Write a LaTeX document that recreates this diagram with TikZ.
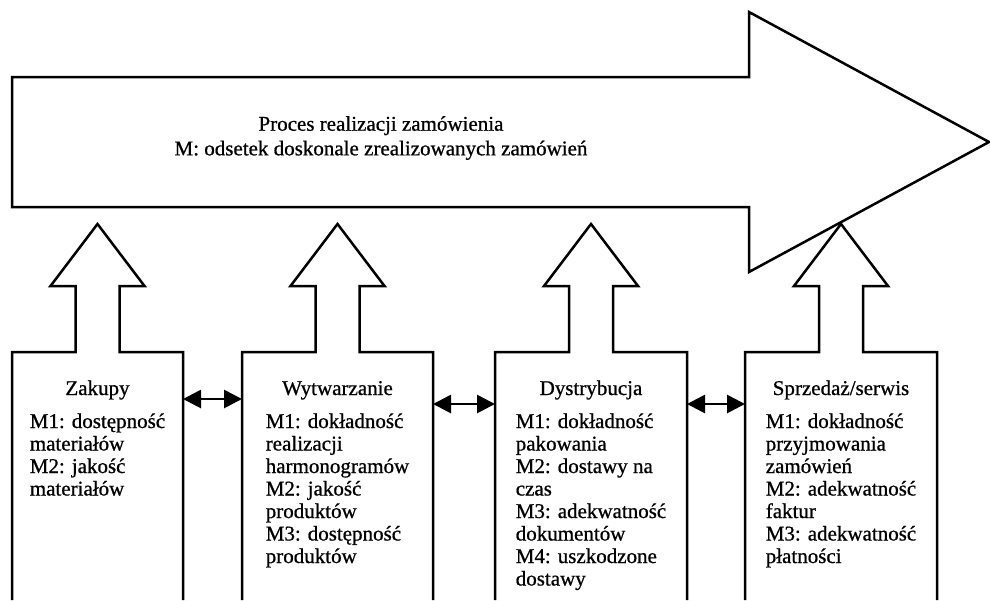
\documentclass[tikz,border=0pt]{standalone}
\usepackage{fontspec}
\setmainfont[AutoFakeBold=0.8]{Liberation Serif}
\usetikzlibrary{arrows.meta}

\tikzset{
  outline/.style={line width=1.25pt, line join=miter},
  link/.style={line width=1.4pt, {Triangle[length=9pt,width=9pt]}-{Triangle[length=9pt,width=9pt]}},
  proctext/.style={align=center, font=\fontsize{10.5}{12.3}\selectfont\bfseries},
  unittitle/.style={anchor=base, inner sep=0pt, font=\fontsize{10.5}{11.25}\selectfont\bfseries},
  metrics/.style={anchor=north, align=left, inner sep=0pt, font=\fontsize{10.5}{11.25}\selectfont\bfseries},
}

\begin{document}
\begin{tikzpicture}[x=0.5pt,y=-0.5pt]
\useasboundingbox (0,0) rectangle (990,600);

% main process arrow
\draw [outline] (12,77) -- (749,77) -- (749,12) -- (989,142) -- (749,272) -- (749,207) -- (12,207) -- cycle;
\node (proc) [proctext] at (381,138) {Proces realizacji zamówienia\\M: odsetek doskonale zrealizowanych zamówień};

% functional areas with their arrows
\foreach \nm/\L/\R/\yw/\ye in {zak/12/183/399/399, wyt/242/433/399/404, dys/495/687/404/404, sprz/745/937/404/404} {
  \pgfmathsetmacro\C{(\L+\R)/2}
  \draw [outline] (\L,600) -- (\L,352) -- ({\C-22},352) -- ({\C-22},286) -- ({\C-47},286)
    -- (\C,224) -- ({\C+47},286) -- ({\C+22},286) -- ({\C+22},352) -- (\R,352) -- (\R,600);
  \coordinate (\nm-w) at (\L,\yw);
  \coordinate (\nm-e) at (\R,\ye);
}

\node (zak-t) [unittitle] at (97.5,395) {Zakupy};
\node (zak-m) [metrics] at (97.5,413) {M1: dostępność\\materiałów\\M2: jakość\\materiałów};

\node (wyt-t) [unittitle] at (337.5,395) {Wytwarzanie};
\node (wyt-m) [metrics] at (337.5,413) {M1: dokładność\\realizacji\\harmonogramów\\M2: jakość\\produktów\\M3: dostępność\\produktów};

\node (dys-t) [unittitle] at (591,395) {Dystrybucja};
\node (dys-m) [metrics] at (591,413) {M1: dokładność\\pakowania\\M2: dostawy na\\czas\\M3: adekwatność\\dokumentów\\M4: uszkodzone\\dostawy};

\node (sprz-t) [unittitle] at (841,395) {Sprzedaż/serwis};
\node (sprz-m) [metrics] at (841,413) {M1: dokładność\\przyjmowania\\zamówień\\M2: adekwatność\\faktur\\M3: adekwatność\\płatności};

% links between areas
\draw [link] (zak-e) -- (wyt-w);
\draw [link] (wyt-e) -- (dys-w);
\draw [link] (dys-e) -- (sprz-w);
\end{tikzpicture}
\end{document}
